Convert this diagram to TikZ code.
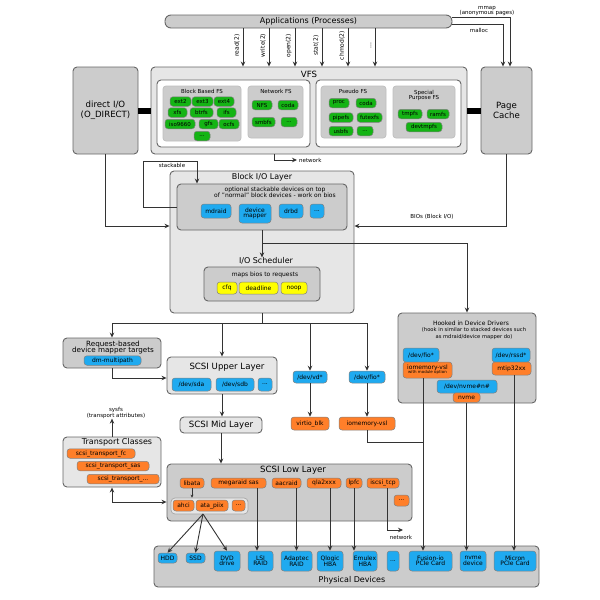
\documentclass[tikz,border=0pt]{standalone}
\usepackage{fontspec}
\setmainfont{DejaVu Sans}
\usetikzlibrary{arrows.meta}
\definecolor{bgray}{HTML}{CCCCCC}
\definecolor{lgray}{HTML}{E6E6E6}
\definecolor{edgec}{HTML}{666666}
\definecolor{pblue}{HTML}{1FAAF0}
\definecolor{porange}{HTML}{FF7F2A}
\definecolor{pgreen}{HTML}{14B414}
\definecolor{pyellow}{HTML}{FFFF00}
\definecolor{linec}{HTML}{333333}
\newcommand\myfa{\fontsize{4}{4.5}\selectfont}
\newcommand\myfb{\fontsize{5.5}{6}\selectfont}
\newcommand\myfc{\fontsize{6}{6.5}\selectfont}
\newcommand\myfd{\fontsize{7.2}{7.6}\selectfont}
\newcommand\myfe{\fontsize{8}{9}\selectfont}
\newcommand\myff{\fontsize{8.6}{9.6}\selectfont}
\begin{document}
\begin{tikzpicture}[x=1pt,y=-1pt,
 bx/.style={draw=edgec, line width=0.9pt, rounded corners=4pt, inner sep=0pt},
 gb/.style={bx, fill=bgray},
 lb/.style={bx, fill=lgray},
 wb/.style={bx, fill=white},
 ib/.style={draw=black!25, line width=0.7pt, rounded corners=3pt, fill=bgray, inner sep=0pt},
 pill/.style={draw=black!50, line width=0.5pt, rounded corners=3pt, inner sep=0pt, align=center, font=\myfc},
 bp/.style={pill, fill=pblue},
 op/.style={pill, fill=porange},
 gp/.style={pill, fill=pgreen, font=\myfb},
 yp/.style={pill, fill=pyellow},
 sz/.style 2 args={minimum width=#1pt, minimum height=#2pt},
 arr/.style={draw=linec, line width=0.9pt, -{Stealth[length=5pt,width=4.5pt]}},
 sarr/.style={draw=linec, line width=0.6pt, -{Stealth[length=3pt,width=3pt]}},
 darr/.style={draw=linec, line width=0.9pt, {Stealth[length=5pt,width=4.5pt]}-{Stealth[length=5pt,width=4.5pt]}},
 ln/.style={draw=linec, line width=0.9pt},
 lbl/.style={inner sep=0pt, align=center},
 sys/.style={lbl, rotate=90, above=3pt, font=\myfc}
]
\useasboundingbox (0,0) rectangle (600,600);

% ---------- top ----------
\node[gb, rounded corners=6pt, sz={287}{13}, font=\myfe] (app) at (308.5,21.5) {Applications (Processes)};
\node[lbl, font=\myfb] (mmaplbl) at (487,11) {mmap\\[-1.5pt](anonymous pages)};
\node[lbl, font=\myfb] (malloclbl) at (479,30) {malloc};

\node[gb, sz={65}{87}, align=center, font=\myff] (dio) at (105.5,110.5) {direct I/O\\(O\_DIRECT)};
\node[lb, sz={316}{87}] (vfs) at (309,110.5) {};
\node[lbl, font=\myff] (vfslbl) at (309,74) {VFS};
\node[gb, sz={51}{87}, align=center, font=\myff] (pc) at (506.5,110.5) {Page\\Cache};

\node[wb, sz={153}{67}] (vfsl) at (233.5,113.5) {};
\node[wb, sz={145}{67}] (vfsr) at (388.5,113.5) {};

\node[ib, sz={78}{55}] (bbfs) at (202,113.5) {};
\node[ib, sz={55}{52}] (netfs) at (275.5,112) {};
\node[ib, sz={65}{52}] (psfs) at (353.5,112) {};
\node[ib, sz={62}{52}] (spfs) at (424,112) {};
\node[lbl, font=\myfb] (bbfsl) at (202,91) {Block Based FS};
\node[lbl, font=\myfb] (netfsl) at (276,91) {Network FS};
\node[lbl, font=\myfb] (psfsl) at (353,91) {Pseudo FS};
\node[lbl, font=\myfb] (spfsl) at (424,95.5) {Special\\[-0.5pt]Purpose FS};

% block based FS
\node[gp, sz={21}{9.5}] (ext2) at (180.5,101.5) {ext2};
\node[gp, sz={21}{9.5}] (ext3) at (202.5,101.5) {ext3};
\node[gp, sz={20}{9.5}] (ext4) at (224,101.5) {ext4};
\node[gp, sz={19}{9.5}] (xfs) at (177.5,112.5) {xfs};
\node[gp, sz={23}{9.5}] (btrfs) at (201.5,112.5) {btrfs};
\node[gp, sz={19}{9.5}] (ifs) at (226.5,112.5) {ifs};
\node[gp, sz={30}{9.5}] (iso) at (180,124) {iso9660};
\node[gp, sz={19}{9.5}] (gfs) at (208.5,124) {gfs};
\node[gp, sz={20}{9.5}] (ocfs) at (229,124) {ocfs};
\node[gp, sz={16}{9.5}] (bbdots) at (202,136) {...};
% network FS
\node[gp, sz={20}{9.5}] (nfs) at (262,105) {NFS};
\node[gp, sz={20}{9.5}] (coda1) at (288,105) {coda};
\node[gp, sz={23}{9.5}] (smbfs) at (263.5,122) {smbfs};
\node[gp, sz={16}{9.5}] (nfdots) at (289,122) {...};
% pseudo FS
\node[gp, sz={20}{9.5}] (proc) at (339,103) {proc};
\node[gp, sz={20}{9.5}] (coda2) at (366,103) {coda};
\node[gp, sz={24}{9.5}] (pipefs) at (341,117.5) {pipefs};
\node[gp, sz={25}{9.5}] (futexfs) at (369.5,117.5) {futexfs};
\node[gp, sz={24}{9.5}] (usbfs) at (341,131) {usbfs};
\node[gp, sz={16}{9.5}] (psdots) at (365,131) {...};
% special FS
\node[gp, sz={24}{9.5}] (tmpfs) at (410,114) {tmpfs};
\node[gp, sz={22}{9.5}] (ramfs) at (438,114) {ramfs};
\node[gp, sz={36}{9.5}] (devtmpfs) at (424,127) {devtmpfs};

% thick links
\draw[line width=6pt] (dio.east) -- (vfs.west);
\draw[line width=6pt] (vfs.east) -- (pc.west);

% syscalls
\coordinate (s1) at (243,0);
\coordinate (s2) at (269,0);
\coordinate (s3) at (295,0);
\coordinate (s4) at (322,0);
\coordinate (s5) at (348,0);
\coordinate (s6) at (375,0);
\draw[arr] (app.south -| s1) -- node[sys, pos=0.45] {read(2)} (vfs.north -| s1);
\draw[arr] (app.south -| s2) -- node[sys, pos=0.45] {write(2)} (vfs.north -| s2);
\draw[arr] (app.south -| s3) -- node[sys, pos=0.45] {open(2)} (vfs.north -| s3);
\draw[arr] (app.south -| s4) -- node[sys, pos=0.45] {stat(2)} (vfs.north -| s4);
\draw[arr] (app.south -| s5) -- node[sys, pos=0.45] {chmod(2)} (vfs.north -| s5);
\draw[arr] (app.south -| s6) -- node[sys, pos=0.45] {...} (vfs.north -| s6);

% mmap / malloc
\coordinate (mm) at (510,17);
\coordinate (ml) at (503,24);
\draw[arr] (app.east |- mm) -| (pc.north -| mm);
\draw[arr] (app.east |- ml) -| (pc.north -| ml);

% VFS -> network
\coordinate (nwx) at (274,0);
\node[lbl, font=\myfb, anchor=west] (net1) at (299,160) {network};
\draw[arr] (vfs.south -| nwx) |- ([xshift=-2pt]net1.west);

% ---------- Block I/O ----------
\node[lb, sz={184}{142}] (blk) at (262,242) {};
\node[lbl, font=\myfe] (blklbl) at (262,177) {Block I/O Layer};
\node[gb, sz={170}{46}] (stk) at (262,207) {};
\node[lbl, font=\myfc] (stklbl) at (275,192) {optional stackable devices on top\\[-0.3pt]of "normal" block devices - work on bios};
\node[bp, sz={30}{14}] (mdraid) at (216,211) {mdraid};
\node[bp, sz={32}{19}] (dmap) at (255,213.5) {device\\[-1.5pt]mapper};
\node[bp, sz={24}{14}] (drbd) at (291,211) {drbd};
\node[bp, sz={14}{14}] (stkdots) at (317,211) {...};

\node[lbl, font=\myfe] (sched) at (266,261) {I/O Scheduler};
\node[gb, sz={116}{34}] (maps) at (262,284) {};
\node[lbl, font=\myfc] (mapslbl) at (265,275) {maps bios to requests};
\node[yp, sz={20}{12}] (cfq) at (227,288) {cfq};
\node[yp, sz={39}{12}] (deadline) at (258.5,288) {deadline};
\node[yp, sz={26}{12}] (noop) at (294,288) {noop};

% stackable loop
\coordinate (lpA) at (143,161);
\coordinate (lpB) at (197,161);
\draw[arr] (stk.west) -| (lpA) -- (lpB) -- (lpB |- stk.north);
\node[lbl, font=\myfb] (stklbl2) at (172,165.5) {stackable};

% direct I/O and page cache into block layer
\coordinate (bioy) at (0,226);
\draw[arr] (dio.south) |- (blk.west |- bioy);
\draw[arr] (pc.south) |- (blk.east |- bioy);
\node[lbl, font=\myfb] (bioslbl) at (432,217) {BIOs (Block I/O)};

% ---------- Hooked drivers ----------
\node[gb, sz={138}{90}] (hook) at (467,358) {};
\node[lbl, font=\myfc] (hooklbl) at (471,323) {Hooked in Device Drivers};
\node[lbl, font=\fontsize{5.2}{6.2}\selectfont] (hooklbl2) at (474,333.5) {(hook in similar to stacked devices such\\as mdraid/device mapper do)};
\node[bp, sz={36}{14}] (hfio) at (421,355) {/dev/fio*};
\node[op, sz={49}{16}] (hiom) at (427.5,370) {iomemory-vsl\\[-2.5pt]{\myfa with module option}};
\node[bp, sz={38}{14}] (rssd) at (511,355) {/dev/rssd*};
\node[op, sz={39}{13}] (mtip) at (511.5,368.5) {mtip32xx};
\node[bp, sz={60}{13}] (hnvme) at (467,386.5) {/dev/nvme\#n\#};
\node[op, sz={27}{9.5}] (nvme) at (466.5,397.5) {nvme};

% stk -> scheduler / hooked
\coordinate (hj) at (0,243);
\draw[arr] (stk.south) -- (stk.south |- sched.north);
\draw[arr] (stk.south |- hj) -| (hook.north);

% ---------- below block layer ----------
\node[gb, sz={98}{30}] (rb) at (112,353) {};
\node[lbl, font=\myfd] (rblbl) at (113,347.5) {Request-based\\[-1pt]device mapper targets};
\node[bp, sz={57}{9.5}] (dmmp) at (112.5,360.5) {dm-multipath};

\node[lb, sz={110}{37}] (upper) at (222,375.5) {};
\node[lbl, font=\myff] (upperlbl) at (227,367) {SCSI Upper Layer};
\node[bp, sz={39}{13}] (sda) at (191.5,384.5) {/dev/sda};
\node[bp, sz={38}{13}] (sdb) at (235,384.5) {/dev/sdb};
\node[bp, sz={14}{13}] (updots) at (265,384.5) {...};

\node[lb, sz={82}{16}, font=\myff] (mid) at (221,425) {SCSI Mid Layer};

\node[bp, sz={34}{12}] (devvd) at (310,377) {/dev/vd*};
\node[bp, sz={36}{12}] (devfio) at (367,377) {/dev/fio*};
\node[op, sz={38}{13}] (virtio) at (310,423.5) {virtio\_blk};
\node[op, sz={56}{13}] (iomv) at (367,423.5) {iomemory-vsl};

\coordinate (bus) at (262,323);
\draw[ln] (blk.south) -- (blk.south |- bus);
\draw[ln] (rb.north |- bus) -- (devfio.north |- bus);
\draw[arr] (rb.north |- bus) -- (rb.north);
\draw[arr] (upper.north |- bus) -- (upper.north);
\draw[arr] (devvd.north |- bus) -- (devvd.north);
\draw[arr] (devfio.north |- bus) -- (devfio.north);
\draw[arr] (devvd.south) -- (virtio.north);
\draw[arr] (devfio.south) -- (iomv.north);

\coordinate (rby) at (0,378);
\draw[arr] (rb.south) |- (upper.west |- rby);
\draw[arr] (upper.south) -- (upper.south |- mid.north);

% transport classes
\node[lb, sz={98}{50}] (trans) at (112,462) {};
\node[lbl, font=\myfe] (translbl) at (117,442.5) {Transport Classes};
\node[op, sz={68}{9.5}] (tfc) at (101,453.5) {scsi\_transport\_fc};
\node[op, sz={72}{9.5}] (tsas) at (113,466) {scsi\_transport\_sas};
\node[op, sz={72}{9.5}] (tdots) at (123,479) {scsi\_transport\_...};
\node[lbl, font=\myfb] (sysfs) at (116,413) {sysfs\\[-0.5pt](transport attributes)};
\draw[arr] (trans.north) -- (trans.north |- sysfs.south);

% ---------- SCSI low layer ----------
\node[gb, sz={245}{57}] (low) at (289.5,492.5) {};
\node[lbl, font=\myff] (lowlbl) at (293,470) {SCSI Low Layer};
\node[op, sz={24}{10}] (libata) at (192,483) {libata};
\node[op, sz={55}{10}] (mega) at (238.5,483) {megaraid sas};
\node[op, sz={29}{10}] (aac) at (286.5,483) {aacraid};
\node[op, sz={34}{10}] (qla) at (324,483) {qla2xxx};
\node[op, sz={16}{10}] (lpfc) at (354,483) {lpfc};
\node[op, sz={32}{10}] (iscsi) at (383,483) {iscsi\_tcp};
\node[op, sz={15}{11}] (lowdots) at (401.5,500.5) {...};
\node[lb, sz={77}{16}, line width=0.7pt, draw=black!35] (lowin) at (209.5,506) {};
\node[op, sz={21}{11}] (ahci) at (183.5,505.5) {ahci};
\node[op, sz={32}{11}] (piix) at (212,505.5) {ata\_piix};
\node[op, sz={13}{11}] (indots) at (238.5,505.5) {...};
\draw[sarr] (libata.south) -- (libata.south |- lowin.north);
\draw[arr] (mid.south) -- (mid.south |- low.north);

\coordinate (ty) at (0,502);
\draw[darr] (trans.south) |- (low.west |- ty);

% ---------- physical ----------
\node[gb, sz={385}{41}] (phys) at (346.5,566.5) {};
\node[lbl, font=\myfe] (physlbl) at (352,580) {Physical Devices};
\node[bp, sz={19}{10}] (hdd) at (167.5,558) {HDD};
\node[bp, sz={19}{10}] (ssd) at (195.5,558) {SSD};
\node[bp, sz={26}{20}] (dvd) at (227,561) {DVD\\[-1pt]drive};
\node[bp, sz={25}{20}] (lsi) at (260.5,561) {LSI\\[-1pt]RAID};
\node[bp, sz={31}{20}] (adaptec) at (296.5,561) {Adaptec\\[-1pt]RAID};
\node[bp, sz={26}{20}] (qlogic) at (330,561) {Qlogic\\[-1pt]HBA};
\node[bp, sz={24}{20}] (emulex) at (365,561) {Emulex\\[-1pt]HBA};
\node[bp, sz={12}{20}] (phdots) at (393,561) {...};
\node[bp, sz={43}{20}] (fusion) at (430.5,561) {Fusion-io\\[-1pt]PCIe Card};
\node[bp, sz={26}{20}] (nvmedev) at (473,561) {nvme\\[-1pt]device};
\node[bp, sz={42}{20}] (micron) at (515,561) {Micron\\[-1pt]PCIe Card};

% low layer -> devices
\coordinate (pxs) at (203,514);
\draw[arr] (pxs) -- (hdd.north);
\draw[arr] (pxs) -- (ssd.north);
\draw[arr] (pxs) -- (dvd.north);
\coordinate (mgx) at (257,0);
\draw[arr] (mega.south -| mgx) -- (lsi.north -| mgx);
\draw[arr] (aac.south -| adaptec.north) -- (adaptec.north);
\draw[arr] (qla.south -| qlogic.north) -- (qlogic.north);
\draw[arr] (lpfc.south) -- (lpfc.south |- emulex.north);
\node[lbl, font=\myfb] (net2) at (401,537.5) {network};
\coordinate (nwy) at (0,530);
\coordinate (isx) at (387,0);
\draw[arr] (iscsi.south -| isx) |- ([xshift=2pt]net2.north |- nwy);

% hooked -> devices
\coordinate (fx) at (423,0);
\coordinate (jn) at (0,442);
\draw[arr] (hiom.south -| fx) -- (fusion.north -| fx);
\draw[ln] (iomv.south) |- (fx |- jn);
\draw[arr] (nvme.south) -- (nvme.south |- nvmedev.north);
\coordinate (mtx) at (514,0);
\draw[arr] (mtip.south -| mtx) -- (micron.north -| mtx);
\end{tikzpicture}
\end{document}
